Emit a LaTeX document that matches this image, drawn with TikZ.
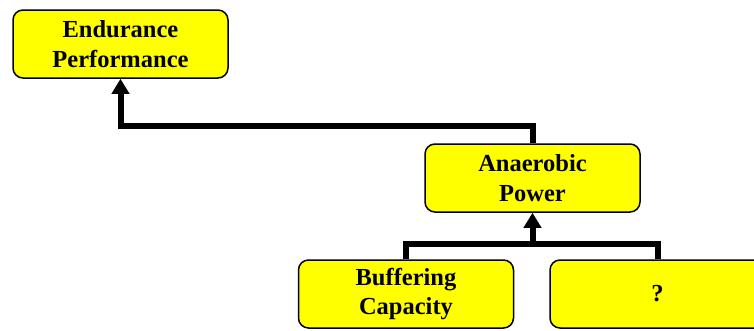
\documentclass[tikz,border=0pt]{standalone}
\usepackage{fontspec}
\setmainfont{Liberation Serif}
\usetikzlibrary{arrows.meta,calc}
\definecolor{boxfill}{RGB}{255,255,0}
\tikzset{
  factor/.style={draw=black, line width=1.5pt, fill=boxfill, rounded corners=10pt,
    minimum width=215pt, minimum height=68pt, inner sep=0pt, align=center,
    font=\bfseries\fontsize{24.5}{29.5}\selectfont},
  link/.style={line width=6pt, draw=black},
  tip/.style={-{Triangle[width=17pt,length=15pt]}}
}
\begin{document}
\begin{tikzpicture}[x=1pt, y=-1pt]
  \useasboundingbox (0,0) rectangle (754,330);
  % factor boxes
  \node[factor] (end) at (120.5,44) {Endurance\\Performance};
  \node[factor] (ana) at (532.5,178) {Anaerobic\\Power};
  \node[factor] (buf) at (406,294) {Buffering\\Capacity};
  \node[factor] (unk) at (657.5,294) {?};
  % anaerobic power feeds endurance performance
  \draw[link,tip] (ana.north) -- ++(0,-17.5) -| (end.south);
  % two contributors joined below anaerobic power
  \coordinate (join) at ($(ana.south)+(0,31)$);
  \draw[link] (buf.north) |- (join) -| (unk.north);
  \draw[link,tip] (join) -- (ana.south);
\end{tikzpicture}
\end{document}
